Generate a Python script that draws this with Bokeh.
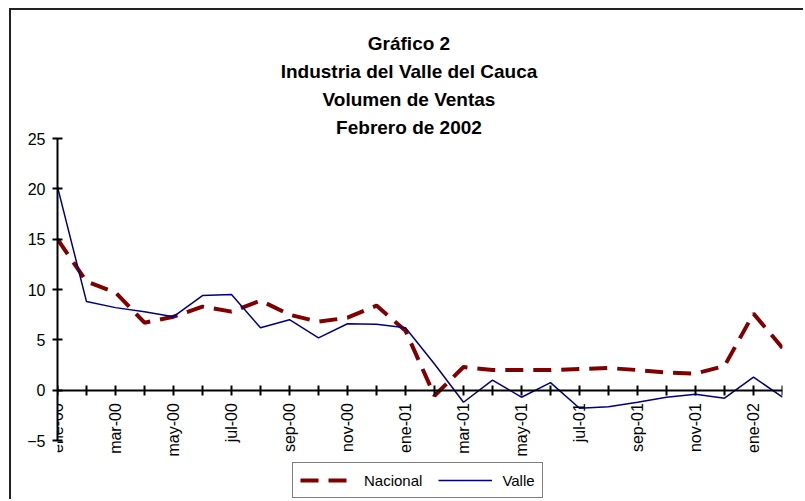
import math
from bokeh.plotting import figure
from bokeh.models import (Range1d, FixedTicker, Label, Legend, LegendItem)
from bokeh.embed import file_html
from bokeh.resources import INLINE

# ---- data ----
meses = ["ene-00", "feb-00", "mar-00", "abr-00", "may-00", "jun-00", "jul-00",
         "ago-00", "sep-00", "oct-00", "nov-00", "dic-00",
         "ene-01", "feb-01", "mar-01", "abr-01", "may-01", "jun-01", "jul-01",
         "ago-01", "sep-01", "oct-01", "nov-01", "dic-01",
         "ene-02", "feb-02"]
nacional = [15.0, 10.8, 9.7, 6.7, 7.3, 8.3, 7.8, 8.9, 7.5, 6.8, 7.2, 8.4,
            5.9, -0.55, 2.3, 2.0, 2.0, 2.0, 2.1, 2.2, 2.0, 1.75, 1.65, 2.4,
            7.6, 4.2]
valle = [20.2, 8.8, 8.2, 7.8, 7.3, 9.4, 9.5, 6.2, 7.0, 5.2, 6.6, 6.55,
         6.2, 2.6, -1.2, 1.0, -0.7, 0.75, -1.8, -1.65, -1.2, -0.7, -0.4, -0.8,
         1.3, -0.7]
y_ticks = [-5, 0, 5, 10, 15, 20, 25]
titulo = ["Gráfico 2", "Industria del Valle del Cauca", "Volumen de Ventas",
          "Febrero de 2002"]

FONT = "Liberation Sans"
idx = list(range(len(meses)))

# ---- layout geometry (pixels) ----
Y_LO, Y_HI = -5, 25          # value axis extent
AX_TOP_PX, AX_BOT_PX = 138, 440   # page y of 25 and -5
FR_TOP_PX, FR_BOT_PX = 12, 500    # frame extends over the whole chart box
PX = (AX_BOT_PX - AX_TOP_PX) / (Y_HI - Y_LO)
y_max = Y_HI + (AX_TOP_PX - FR_TOP_PX) / PX
y_min = Y_LO - (FR_BOT_PX - AX_BOT_PX) / PX

def y_at(px):
    return Y_HI + (AX_TOP_PX - px) / PX

p = figure(width=794, height=491, output_backend="svg", toolbar_location=None,
           x_range=Range1d(0, len(meses) - 1), y_range=Range1d(y_min, y_max),
           min_border_left=46, min_border_right=23, min_border_top=2,
           min_border_bottom=1)
p.styles = {"margin-left": "9px", "margin-top": "8px",
            "border-left": "2px solid #222", "border-top": "2px solid #222"}
p.background_fill_color = "white"
p.border_fill_color = "white"
p.outline_line_color = None
p.xgrid.visible = False
p.ygrid.visible = False

r_nac = p.line(idx, nacional, line_color="#800000", line_width=4,
               line_dash="18 10")
r_val = p.line(idx, valle, line_color="#000080", line_width=1.5)

# y axis
ya = p.yaxis[0]
ya.bounds = (Y_LO, Y_HI)
ya.ticker = FixedTicker(ticks=y_ticks)
ya.major_tick_in = 5
ya.major_tick_out = 5
ya.minor_tick_line_color = None
ya.axis_line_width = 2
ya.major_tick_line_width = 2
ya.axis_line_color = "black"
ya.major_tick_line_color = "black"
ya.major_label_text_font = FONT
ya.major_label_text_font_size = "16px"
ya.major_label_text_color = "black"
ya.major_label_standoff = 7

# x axis crossing at 0
xa = p.xaxis[0]
xa.fixed_location = 0
xa.ticker = FixedTicker(ticks=idx)
xa.major_label_overrides = {i: (m if i % 2 == 0 else "") for i, m in enumerate(meses)}
xa.major_label_orientation = math.pi / 2
xa.major_tick_in = 5
xa.major_tick_out = 5
xa.minor_tick_line_color = None
xa.axis_line_width = 2
xa.major_tick_line_width = 2
xa.axis_line_color = "black"
xa.major_tick_line_color = "black"
xa.major_label_text_font = FONT
xa.major_label_text_font_size = "16px"
xa.major_label_text_color = "black"
xa.major_label_standoff = 8

# title lines
title_px = [43, 71, 99, 127]
for t, ypx in zip(titulo, title_px):
    p.add_layout(Label(x=12.12, y=y_at(ypx), text=t, text_align="center",
                       text_baseline="middle", text_font=FONT,
                       text_font_style="bold", text_font_size="19px",
                       text_color="black"))

legend = Legend(items=[LegendItem(label="Nacional", renderers=[r_nac]),
                       LegendItem(label="Valle", renderers=[r_val])],
                orientation="horizontal", location=(235, 2),
                border_line_color="black", border_line_width=1,
                background_fill_color="white", padding=7, spacing=16,
                glyph_width=54, label_standoff=10,
                label_text_font=FONT, label_text_font_size="15px",
                label_text_color="black", margin=0)
p.add_layout(legend, "center")

open("out.html", "w").write(file_html(p, INLINE))
